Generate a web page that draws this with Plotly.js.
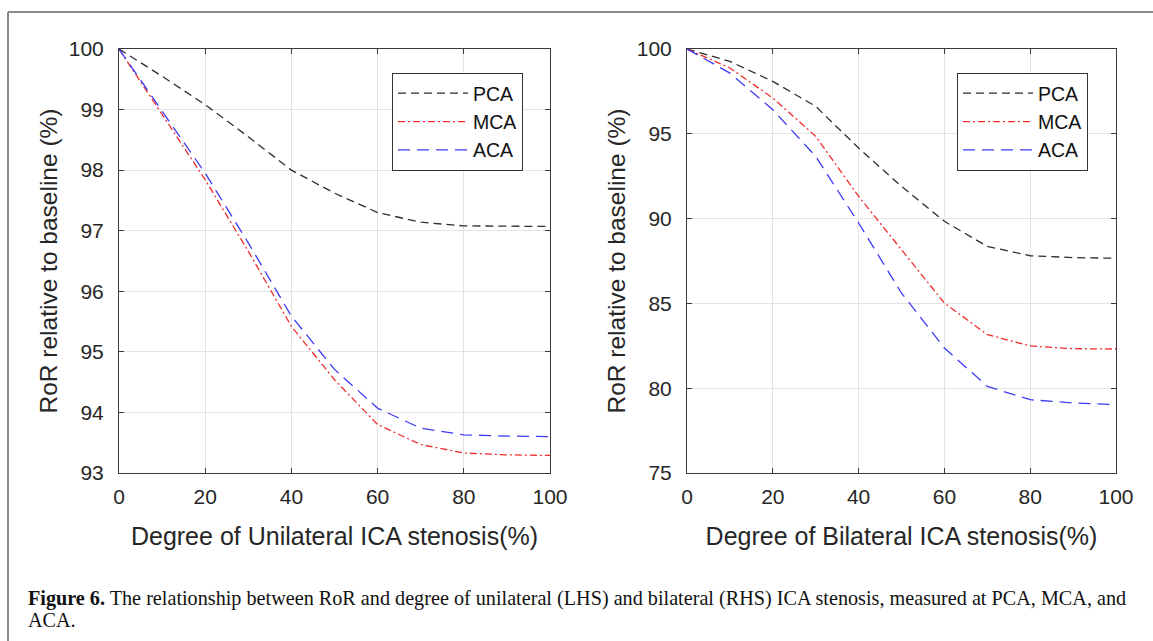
<!DOCTYPE html>
<html>
<head>
<meta charset="utf-8">
<script src="https://cdn.plot.ly/plotly-3.0.1.min.js"></script>
<style>html,body{margin:0;padding:0;background:#fff;}#chart{width:1153px;height:641px;}</style>
</head>
<body>
<div id="chart"></div>
<script>
// ---- data ----
const stenosis = [0, 10, 20, 30, 40, 50, 60, 70, 80, 90, 100];

const uniPCA = [100, 99.55, 99.08, 98.55, 98.00, 97.62, 97.30, 97.14, 97.08, 97.07, 97.07];
const uniMCA = [100, 98.93, 97.84, 96.66, 95.42, 94.54, 93.80, 93.47, 93.33, 93.30, 93.29];
const uniACA = [100, 98.97, 97.95, 96.80, 95.59, 94.71, 94.07, 93.74, 93.63, 93.61, 93.60];

const biPCA = [100, 99.27, 98.09, 96.62, 94.16, 91.90, 89.84, 88.36, 87.81, 87.70, 87.66];
const biMCA = [100, 98.88, 97.11, 94.85, 91.31, 88.17, 85.02, 83.16, 82.49, 82.33, 82.31];
const biACA = [100, 98.58, 96.42, 93.67, 89.74, 85.61, 82.37, 80.11, 79.32, 79.13, 79.03];

const seriesNames = ["PCA", "MCA", "ACA"];
const xTitles = ["Degree of Unilateral ICA stenosis(%)", "Degree of Bilateral ICA stenosis(%)"];
const yTitle = "RoR relative to baseline (%)";
const captionLines = [
  "<b>Figure 6.</b> The relationship between RoR and degree of unilateral (LHS) and bilateral (RHS) ICA stenosis, measured at PCA, MCA, and",
  "ACA."
];

// ---- styles ----
const W = 1153, H = 641;
const styles = [
  {color: "rgb(45,45,45)", dash: "8px,5px"},
  {color: "rgb(240,45,45)", dash: "7px,3px,2px,3px"},
  {color: "rgb(60,60,245)", dash: "12px,7px"}
];
const font = "Liberation Sans, Arial, sans-serif";

function mk(x, y, i, xa, ya, leg) {
  return {
    x: x, y: y, type: "scatter", mode: "lines", name: seriesNames[i],
    xaxis: xa, yaxis: ya, legend: leg,
    line: {color: styles[i].color, dash: styles[i].dash, width: 1.3},
    hoverinfo: "x+y+name"
  };
}

const traces = [
  mk(stenosis, uniPCA, 0, "x", "y", "legend"),
  mk(stenosis, uniMCA, 1, "x", "y", "legend"),
  mk(stenosis, uniACA, 2, "x", "y", "legend"),
  mk(stenosis, biPCA, 0, "x2", "y2", "legend2"),
  mk(stenosis, biMCA, 1, "x2", "y2", "legend2"),
  mk(stenosis, biACA, 2, "x2", "y2", "legend2")
];

function px(v) { return v / W; }
function py(v) { return 1 - v / H; }

const axBase = {
  showline: true, linecolor: "#3a3a3a", linewidth: 1, mirror: "ticks",
  ticks: "inside", ticklen: 5, tickcolor: "#3a3a3a", tickwidth: 1,
  showgrid: true, gridcolor: "#e3e3e3", gridwidth: 1, zeroline: false,
  tickfont: {family: font, size: 21, color: "#262626"}
};

function xax(dom, title, anchor) {
  return Object.assign({}, axBase, {
    domain: dom, range: [0, 100], dtick: 20, tick0: 0, anchor: anchor,
    ticklabelstandoff: 5,
    title: {text: title, font: {family: font, size: 25, color: "#262626"}, standoff: 20}
  });
}
function yax(dom, range, dtick, anchor) {
  return Object.assign({}, axBase, {
    domain: dom, range: range, dtick: dtick, anchor: anchor,
    ticklabelstandoff: 10,
    title: {text: yTitle, font: {family: font, size: 24.5, color: "#262626"}, standoff: 4}
  });
}

const legBase = {
  bgcolor: "#ffffff", bordercolor: "#333333", borderwidth: 1,
  font: {family: font, size: 19.5, color: "#111"},
  xanchor: "left", yanchor: "top", itemwidth: 70, tracegroupgap: 0
};

const capFont = {family: "Liberation Serif, Times New Roman, serif", size: 20.2, color: "#111"};

const layout = {
  width: W, height: H,
  margin: {l: 0, r: 0, t: 0, b: 0},
  paper_bgcolor: "#ffffff", plot_bgcolor: "#ffffff",
  showlegend: true,
  xaxis: xax([px(119), px(550)], xTitles[0], "y"),
  yaxis: yax([py(473), py(49)], [93, 100], 1, "x"),
  xaxis2: xax([px(687), px(1116)], xTitles[1], "y2"),
  yaxis2: yax([py(473), py(49)], [75, 100], 5, "x2"),
  legend: Object.assign({}, legBase, {x: px(392), y: py(73)}),
  legend2: Object.assign({}, legBase, {x: px(957), y: py(73)}),
  shapes: [
    {type: "line", xref: "paper", yref: "paper", x0: px(8), x1: px(8), y0: 0, y1: py(12),
     line: {color: "#8a8a8a", width: 2}},
    {type: "line", xref: "paper", yref: "paper", x0: px(8), x1: 1, y0: py(12), y1: py(12),
     line: {color: "#8a8a8a", width: 2}}
  ],
  annotations: [
    {text: captionLines[0], xref: "paper", yref: "paper", x: px(26), y: py(598),
     xanchor: "left", yanchor: "middle", align: "left", showarrow: false, font: capFont},
    {text: captionLines[1], xref: "paper", yref: "paper", x: px(26), y: py(620),
     xanchor: "left", yanchor: "middle", align: "left", showarrow: false, font: capFont}
  ]
};

Plotly.newPlot("chart", traces, layout, {displayModeBar: false});
</script>
</body>
</html>
